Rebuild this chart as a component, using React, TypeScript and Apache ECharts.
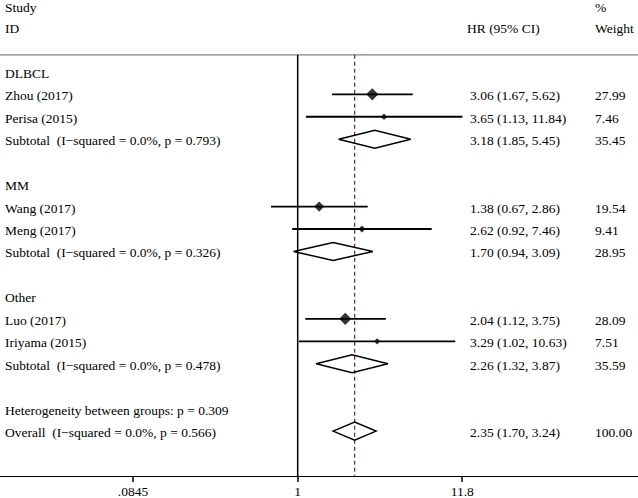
import React, { useEffect, useRef } from "react";
import * as echarts from "echarts";

const FONT = '"Liberation Serif", "Times New Roman", serif';
const FONT_SIZE = 13.5;

// ---- data ----
const groupNames = ["DLBCL", "MM", "Other"];
const studyNames = ["Zhou (2017)", "Perisa (2015)", "Wang (2017)", "Meng (2017)", "Luo (2017)", "Iriyama (2015)"];
const studyGroup = [0, 0, 1, 1, 2, 2];
const studyHR = [3.06, 3.65, 1.38, 2.62, 2.04, 3.29];
const studyLower = [1.67, 1.13, 0.67, 0.92, 1.12, 1.02];
const studyUpper = [5.62, 11.84, 2.86, 7.46, 3.75, 10.63];
const studyWeight = [27.99, 7.46, 19.54, 9.41, 28.09, 7.51];

const subtotalNotes = [
  "Subtotal  (I\u2212squared = 0.0%, p = 0.793)",
  "Subtotal  (I\u2212squared = 0.0%, p = 0.326)",
  "Subtotal  (I\u2212squared = 0.0%, p = 0.478)",
];
const subtotalHR = [3.18, 1.7, 2.26];
const subtotalLower = [1.85, 0.94, 1.32];
const subtotalUpper = [5.45, 3.09, 3.87];
const subtotalWeight = [35.45, 28.95, 35.59];

const heterogeneityNote = "Heterogeneity between groups: p = 0.309";
const overallNote = "Overall  (I\u2212squared = 0.0%, p = 0.566)";
const overallHR = 2.35;
const overallLower = 1.7;
const overallUpper = 3.24;
const overallWeight = 100.0;

const xTickValues = [0.0845, 1, 11.8];
const xTickLabels = [".0845", "1", "11.8"];

// ---- layout (rows on y scale, log10 on x scale) ----
const X_MIN = -1.9394;
const X_MAX = 2.2169;
const Y_MIN = -3.2;
const Y_MAX = 18;
const SEP_ROW = -0.76;
const HEAD_ROW_1 = -2.95;
const HEAD_ROW_2 = -2;
const COL_LEFT = 5;
const COL_HR = 470;
const COL_HR_HEAD = 467;
const COL_W = 595;

const lg = (v: number) => Math.log10(v);
const fmtCI = (e: number, l: number, u: number) => `${e.toFixed(2)} (${l.toFixed(2)}, ${u.toFixed(2)})`;

function buildOption() {
  const studyRows: number[] = [];
  const counter = [0, 0, 0];
  studyGroup.forEach((g) => {
    studyRows.push(g * 5 + 1 + counter[g]);
    counter[g] += 1;
  });
  const subtotalRows = groupNames.map((_, g) => g * 5 + 3);
  const hetRow = 15;
  const overallRow = 16;

  type T = { x: number; row: number; text: string };
  const texts: T[] = [
    { x: COL_LEFT, row: HEAD_ROW_1, text: "Study" },
    { x: COL_LEFT, row: HEAD_ROW_2, text: "ID" },
    { x: COL_HR_HEAD, row: HEAD_ROW_2, text: "HR (95% CI)" },
    { x: COL_W, row: HEAD_ROW_1, text: "%" },
    { x: COL_W, row: HEAD_ROW_2, text: "Weight" },
  ];
  groupNames.forEach((name, g) => texts.push({ x: COL_LEFT, row: g * 5, text: name }));
  studyNames.forEach((name, i) => {
    texts.push({ x: COL_LEFT, row: studyRows[i], text: name });
    texts.push({ x: COL_HR, row: studyRows[i], text: fmtCI(studyHR[i], studyLower[i], studyUpper[i]) });
    texts.push({ x: COL_W, row: studyRows[i], text: studyWeight[i].toFixed(2) });
  });
  subtotalNotes.forEach((note, g) => {
    texts.push({ x: COL_LEFT, row: subtotalRows[g], text: note });
    texts.push({ x: COL_HR, row: subtotalRows[g], text: fmtCI(subtotalHR[g], subtotalLower[g], subtotalUpper[g]) });
    texts.push({ x: COL_W, row: subtotalRows[g], text: subtotalWeight[g].toFixed(2) });
  });
  texts.push({ x: COL_LEFT, row: hetRow, text: heterogeneityNote });
  texts.push({ x: COL_LEFT, row: overallRow, text: overallNote });
  texts.push({ x: COL_HR, row: overallRow, text: fmtCI(overallHR, overallLower, overallUpper) });
  texts.push({ x: COL_W, row: overallRow, text: overallWeight.toFixed(2) });

  const summaries = [
    ...subtotalHR.map((e, g) => [subtotalRows[g], lg(subtotalLower[g]), lg(e), lg(subtotalUpper[g])]),
    [overallRow, lg(overallLower), lg(overallHR), lg(overallUpper)],
  ];

  const tickLogs = xTickValues.map(lg);

  return {
    animation: false,
    backgroundColor: "#fff",
    grid: { left: 0, right: 0, top: 0, bottom: 21.3, containLabel: false },
    xAxis: {
      type: "value",
      min: X_MIN,
      max: X_MAX,
      splitLine: { show: false },
      axisLine: { onZero: false, lineStyle: { color: "#000", width: 1.2 } },
      axisTick: { show: true, customValues: tickLogs, length: 6, lineStyle: { color: "#000", width: 1.5 } },
      axisLabel: {
        customValues: tickLogs,
        color: "#000",
        fontFamily: FONT,
        fontSize: FONT_SIZE,
        margin: 8,
        formatter: (v: number) => {
          const i = tickLogs.findIndex((t) => Math.abs(t - v) < 1e-6);
          return i >= 0 ? xTickLabels[i] : "";
        },
      },
    },
    yAxis: { type: "value", inverse: true, min: Y_MIN, max: Y_MAX, show: false },
    series: [
      {
        type: "custom",
        name: "separator",
        data: [[0, SEP_ROW]],
        renderItem: (params: any, api: any) => {
          const p1 = api.coord([X_MIN, SEP_ROW]);
          const p2 = api.coord([X_MAX, SEP_ROW]);
          return {
            type: "line",
            shape: { x1: p1[0], y1: p1[1], x2: p2[0], y2: p2[1] },
            style: { stroke: "#858585", lineWidth: 1.3 },
          };
        },
      },
      {
        type: "custom",
        name: "reference",
        data: [
          [0, SEP_ROW, 0],
          [lg(overallHR), SEP_ROW, 1],
        ],
        renderItem: (params: any, api: any) => {
          const x = api.value(0);
          const dashed = api.value(2) === 1;
          const p1 = api.coord([x, SEP_ROW]);
          const p2 = api.coord([x, Y_MAX]);
          return {
            type: "line",
            shape: { x1: p1[0], y1: p1[1], x2: p2[0], y2: p2[1] },
            style: dashed
              ? { stroke: "#7d1e24", lineWidth: 1.2, lineDash: [4, 3] }
              : { stroke: "#000", lineWidth: 1.5 },
          };
        },
      },
      {
        type: "custom",
        name: "ci",
        data: studyHR.map((_, i) => [lg(studyLower[i]), studyRows[i], lg(studyUpper[i])]),
        renderItem: (params: any, api: any) => {
          const row = api.value(1);
          const p1 = api.coord([api.value(0), row]);
          const p2 = api.coord([api.value(2), row]);
          return {
            type: "line",
            shape: { x1: p1[0], y1: p1[1], x2: p2[0], y2: p2[1] },
            style: { stroke: "#000", lineWidth: 1.8 },
          };
        },
      },
      {
        type: "scatter",
        name: "estimate",
        symbol: "diamond",
        symbolSize: (val: number[]) => 2.3 * Math.sqrt(val[2]),
        itemStyle: { color: "#000" },
        data: studyHR.map((e, i) => [lg(e), studyRows[i], studyWeight[i]]),
        z: 5,
      },
      {
        type: "custom",
        name: "summary",
        data: summaries.map((s) => [s[2], s[0], s[1], s[3]]),
        renderItem: (params: any, api: any) => {
          const est = api.value(0);
          const row = api.value(1);
          const lo = api.value(2);
          const hi = api.value(3);
          const pts = [
            api.coord([lo, row]),
            api.coord([est, row - 0.4]),
            api.coord([hi, row]),
            api.coord([est, row + 0.4]),
          ];
          return {
            type: "polygon",
            shape: { points: pts },
            style: { fill: "none", stroke: "#000", lineWidth: 1.5 },
          };
        },
        z: 4,
      },
      {
        type: "custom",
        name: "texts",
        data: texts.map((t) => [0, t.row]),
        renderItem: (params: any, api: any) => {
          const t = texts[params.dataIndex];
          const y = api.coord([0, t.row])[1] + 1.5;
          return {
            type: "text",
            x: t.x,
            y,
            style: {
              text: t.text,
              fill: "#000",
              fontFamily: FONT,
              fontSize: FONT_SIZE,
              align: "left",
              verticalAlign: "middle",
            },
          };
        },
        z: 6,
      },
    ],
  };
}

export default function App() {
  const ref = useRef<HTMLDivElement>(null);
  useEffect(() => {
    if (!ref.current) return;
    const chart = echarts.init(ref.current, null, { renderer: "svg" });
    chart.setOption(buildOption() as any);
    return () => chart.dispose();
  }, []);
  return (
    <div
      ref={ref}
      style={{ position: "fixed", left: 0, top: 0, width: 638, height: 498, background: "#fff" }}
    />
  );
}
